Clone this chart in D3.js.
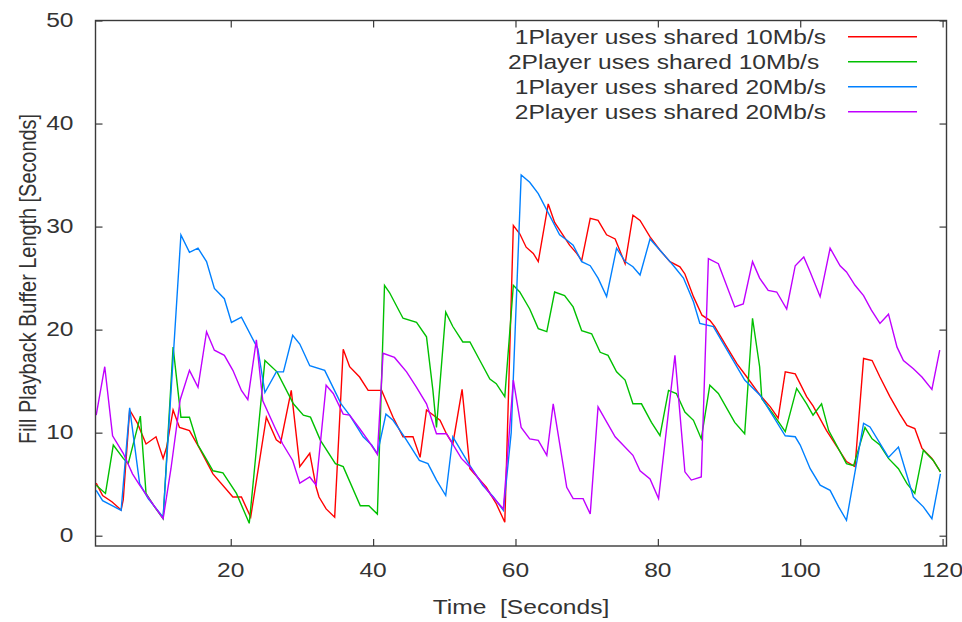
<!DOCTYPE html>
<html>
<head>
<meta charset="utf-8">
<script src="https://cdn.jsdelivr.net/npm/d3@7"></script>
<style>
  body { margin: 0; background: #fff; }
  text { font-family: "Liberation Sans", Arial, sans-serif; fill: #333; }
</style>
</head>
<body>
<svg id="chart" width="962" height="622"></svg>
<script>
// Axis ticks
const xTicks = [20, 40, 60, 80, 100, 120];
const yTicks = [0, 10, 20, 30, 40, 50];

// Legend entries and line colours (gnuplot defaults)
const seriesLabels = [
  "1Player uses shared 10Mb/s",
  "2Player uses shared 10Mb/s ",
  "1Player uses shared 20Mb/s",
  "2Player uses shared 20Mb/s"
];
const seriesColors = ["#ff0000", "#00c000", "#0080ff", "#c000ff"];

// Buffer length [s] over time [s] — one player on a shared 10Mb/s link
const buf1p10 = [[1.1,5.1],[2.0,3.9],[3.3,3.3],[4.6,2.5],[4.9,3.5],[5.8,12.2],[6.9,10.9],[8.1,8.9],[9.5,9.6],[10.5,7.5],[11.0,8.6],[11.9,12.2],[12.8,10.5],[14.2,10.2],[15.6,8.5],[17.5,6.0],[20.3,3.75],[21.5,3.75],[22.8,1.8],[25.0,11.5],[26.4,9.3],[27.0,9.0],[28.5,14.1],[29.7,6.7],[31.1,8.0],[32.0,4.7],[32.4,3.75],[33.4,2.6],[34.6,1.8],[35.8,18.1],[36.7,16.4],[38.1,15.4],[39.3,14.1],[41.2,14.1],[42.8,11.5],[44.2,9.6],[45.6,9.6],[46.6,7.6],[47.5,12.2],[49.4,11.2],[50.3,9.9],[51.2,8.9],[52.5,14.2],[53.6,6.5],[55.9,4.7],[57.3,3.1],[58.5,1.3],[59.7,30.1],[60.6,29.3],[61.5,28.0],[62.5,27.4],[63.2,26.6],[64.6,32.2],[65.5,30.4],[67.6,28.2],[68.6,27.4],[69.3,26.7],[70.5,30.8],[71.6,30.6],[72.8,29.2],[74.0,28.8],[75.4,26.4],[76.5,31.1],[77.5,30.6],[78.9,29.0],[80.3,27.7],[81.7,26.6],[83.1,26.1],[83.8,25.4],[85.0,23.2],[86.2,21.4],[87.3,20.9],[88.0,20.3],[89.7,18.3],[91.1,16.7],[92.5,15.4],[94.4,13.6],[95.8,12.5],[96.9,11.4],[97.9,15.9],[99.3,15.7],[100.9,13.5],[101.8,12.6],[103.7,10.2],[106.5,7.2],[107.7,6.7],[108.9,17.2],[110.1,17.0],[111.2,15.4],[112.6,13.5],[114.0,11.8],[115.0,10.7],[116.1,10.4],[117.1,8.5],[118.5,7.5],[119.7,6.2]];

// Two players on a shared 10Mb/s link
const buf2p10 = [[1.1,4.9],[2.4,4.1],[3.5,8.8],[4.9,7.5],[5.6,7.0],[7.3,11.6],[8.1,4.1],[9.3,2.8],[10.5,1.65],[11.9,18.3],[13.0,11.5],[14.2,11.5],[15.4,8.8],[16.5,7.5],[17.5,6.3],[18.9,6.1],[20.8,4.1],[22.6,1.2],[24.8,17.0],[26.5,15.9],[28.8,12.8],[30.2,11.7],[31.2,11.5],[32.6,9.25],[34.7,7.0],[35.8,6.7],[38.2,2.9],[39.4,2.9],[40.6,2.1],[41.6,24.3],[42.3,23.6],[44.2,21.1],[46.1,20.7],[47.5,19.3],[48.4,14.1],[48.9,10.5],[50.2,21.7],[51.2,20.3],[52.6,18.8],[53.6,18.8],[55.0,17.0],[56.4,15.2],[57.3,14.75],[58.5,13.5],[59.7,24.3],[60.6,23.65],[62.0,22.0],[63.2,20.1],[64.4,19.8],[65.5,23.65],[66.9,23.3],[68.1,22.2],[69.3,19.9],[70.7,19.6],[71.9,17.8],[73.0,17.5],[74.2,15.9],[75.4,15.1],[76.5,12.8],[77.7,12.8],[79.1,11.0],[80.3,9.7],[81.5,14.1],[82.6,13.8],[83.8,12.0],[85.0,11.2],[86.1,9.4],[87.3,14.6],[88.5,13.8],[90.8,11.0],[92.2,9.9],[93.3,21.1],[94.3,16.4],[94.6,13.3],[96.2,11.8],[97.9,10.1],[99.5,14.3],[100.9,12.8],[101.8,11.7],[103.0,12.8],[104.0,10.2],[106.5,7.0],[107.5,6.8],[109.1,10.5],[110.1,9.4],[111.2,8.8],[112.4,7.5],[113.8,6.5],[115.0,5.05],[116.1,4.1],[117.3,8.3],[118.7,7.3],[119.7,6.2]];

// One player on a shared 20Mb/s link
const buf1p20 = [[1.1,4.4],[2.0,3.4],[3.4,2.9],[4.6,2.45],[5.8,12.4],[7.2,5.05],[8.4,3.6],[10.5,1.8],[13.0,29.2],[14.2,27.5],[15.4,27.9],[16.6,26.6],[17.7,24.0],[19.1,23.0],[20.1,20.7],[21.5,21.2],[23.8,18.15],[24.8,13.9],[26.4,15.9],[27.4,15.9],[28.7,19.45],[29.7,18.6],[31.1,16.5],[33.2,16.05],[35.5,12.8],[36.7,11.7],[38.6,9.6],[39.8,8.8],[40.6,7.96],[41.8,11.8],[42.8,11.2],[44.4,9.6],[46.5,7.3],[47.7,7.0],[48.9,5.4],[50.2,3.9],[51.2,9.6],[53.6,6.8],[55.4,4.9],[56.9,3.75],[58.3,2.46],[59.4,10.0],[60.8,35.0],[62.0,34.3],[63.2,33.2],[66.2,29.2],[67.2,28.7],[68.1,28.2],[69.3,26.6],[70.5,26.2],[71.6,25.0],[72.8,23.2],[74.2,27.9],[75.4,26.6],[76.5,26.1],[77.5,25.3],[78.9,28.8],[80.3,27.7],[81.7,26.6],[82.2,26.2],[83.6,25.0],[85.0,22.7],[85.9,20.6],[87.8,20.3],[92.2,15.1],[94.4,13.6],[97.9,9.7],[99.3,9.6],[100.0,8.8],[101.4,6.5],[102.8,4.9],[104.2,4.4],[105.4,2.8],[106.5,1.5],[108.9,10.9],[109.8,10.55],[112.4,7.6],[113.8,8.6],[115.9,3.75],[117.3,2.8],[118.5,1.65],[119.7,6.0]];

// Two players on a shared 20Mb/s link
const buf2p20 = [[1.1,11.7],[2.3,16.4],[3.4,9.7],[4.9,8.0],[6.2,6.0],[7.2,4.9],[10.5,1.65],[11.6,6.5],[12.9,13.2],[14.2,16.05],[15.4,14.4],[16.6,19.8],[17.7,18.0],[19.1,17.5],[20.3,16.05],[21.5,14.1],[22.4,13.2],[23.6,19.0],[24.5,13.1],[26.2,10.5],[27.3,8.9],[28.7,7.3],[29.7,5.1],[31.1,5.7],[32.0,4.9],[33.4,14.6],[34.4,13.8],[35.8,11.8],[36.7,11.7],[38.1,10.4],[39.3,9.25],[40.6,7.9],[41.4,17.7],[43.0,17.3],[44.7,15.9],[46.1,14.4],[47.5,12.8],[48.9,9.9],[50.3,9.9],[52.4,7.5],[53.6,6.66],[55.0,5.4],[56.5,4.0],[58.3,2.6],[59.7,15.1],[60.8,10.5],[62.0,9.4],[63.2,9.25],[64.4,7.8],[65.3,12.8],[67.2,4.7],[68.1,3.6],[69.5,3.6],[70.5,2.1],[71.6,12.5],[74.0,9.6],[76.5,7.8],[77.5,6.3],[78.9,5.5],[80.1,3.6],[82.4,17.5],[83.8,6.2],[84.7,5.4],[86.1,5.7],[87.1,26.9],[88.5,26.4],[90.8,22.2],[92.0,22.5],[93.3,26.6],[94.3,25.0],[95.5,23.8],[96.7,23.65],[98.1,22.0],[99.3,26.2],[100.5,27.05],[101.4,25.6],[102.8,23.2],[104.2,27.9],[105.6,26.2],[106.5,25.6],[107.7,24.3],[108.9,23.3],[110.0,21.9],[111.2,20.6],[112.4,21.5],[113.6,18.3],[114.5,17.0],[115.9,16.2],[117.1,15.4],[118.5,14.2],[119.6,18.0]];

const allSeries = [buf1p10, buf2p10, buf1p20, buf2p20];

// Plot frame in page pixels
const frameL = 95.5, frameR = 946.5, frameT = 20.5, frameB = 546;
const TEXT_SCALE = 1.26;   // glyphs are drawn slightly wide
const FONT = 19.5;

const svg = d3.select("#chart");
const x = d3.scaleLinear().domain([1, 120.55]).range([frameL, frameR]);
const y = d3.scaleLinear().domain([-1, 50]).range([frameB, frameT]);

const axisColor = "#3a3a3a";
const tickLen = 7;

// Inward ticks on all four sides
const axes = [
  { gen: d3.axisBottom(x).tickValues(xTicks).tickSize(-tickLen), at: `translate(0,${frameB})` },
  { gen: d3.axisTop(x).tickValues(xTicks).tickSize(-tickLen), at: `translate(0,${frameT})` },
  { gen: d3.axisLeft(y).tickValues(yTicks).tickSize(-tickLen), at: `translate(${frameL},0)` },
  { gen: d3.axisRight(y).tickValues(yTicks).tickSize(-tickLen), at: `translate(${frameR},0)` }
];
axes.forEach(a => {
  const g = svg.append("g").attr("transform", a.at).call(a.gen.tickFormat(""));
  g.select(".domain").remove();
  g.selectAll(".tick line").attr("stroke", axisColor).attr("stroke-width", 1.2);
});

// Lines, clipped to the frame
svg.append("clipPath").attr("id", "plotClip")
  .append("rect").attr("x", frameL).attr("y", frameT)
  .attr("width", frameR - frameL).attr("height", frameB - frameT);

const line = d3.line().x(d => x(d[0])).y(d => y(d[1]));
const plot = svg.append("g").attr("clip-path", "url(#plotClip)");
allSeries.forEach((s, i) => {
  plot.append("path").datum(s)
    .attr("d", line)
    .attr("fill", "none")
    .attr("stroke", seriesColors[i])
    .attr("stroke-width", 1.4)
    .attr("stroke-linejoin", "miter");
});

// Frame
svg.append("rect")
  .attr("x", frameL).attr("y", frameT)
  .attr("width", frameR - frameL).attr("height", frameB - frameT)
  .attr("fill", "none").attr("stroke", axisColor).attr("stroke-width", 1.4);

// Helper for wide text
function wideText(px, py, str, anchor) {
  return svg.append("g").attr("transform", `translate(${px},${py})`)
    .append("text")
    .attr("transform", `scale(${TEXT_SCALE},1)`)
    .attr("text-anchor", anchor)
    .attr("font-size", FONT)
    .style("white-space", "pre")
    .text(str);
}

// Tick labels
yTicks.forEach(v => wideText(frameL - 22, y(v) + 6.5, String(v), "end"));
xTicks.forEach(v => wideText(x(v), frameB + 30.5, String(v), "middle"));

// Axis titles
wideText((frameL + frameR) / 2, 614, "Time  [Seconds]", "middle");
svg.append("g").attr("transform", `translate(36,279) scale(${TEXT_SCALE},1) rotate(-90)`)
  .append("text")
  .attr("text-anchor", "middle")
  .attr("font-size", FONT)
  .attr("textLength", 330)
  .attr("lengthAdjust", "spacingAndGlyphs")
  .text("Fill Playback Buffer Length [Seconds]");

// Legend
seriesLabels.forEach((lab, i) => {
  const cy = 36.7 + 25 * i;
  wideText(826, cy + 7, lab, "end");
  svg.append("line")
    .attr("x1", 848).attr("x2", 917)
    .attr("y1", cy).attr("y2", cy)
    .attr("stroke", seriesColors[i]).attr("stroke-width", 1.4);
});
</script>
</body>
</html>
